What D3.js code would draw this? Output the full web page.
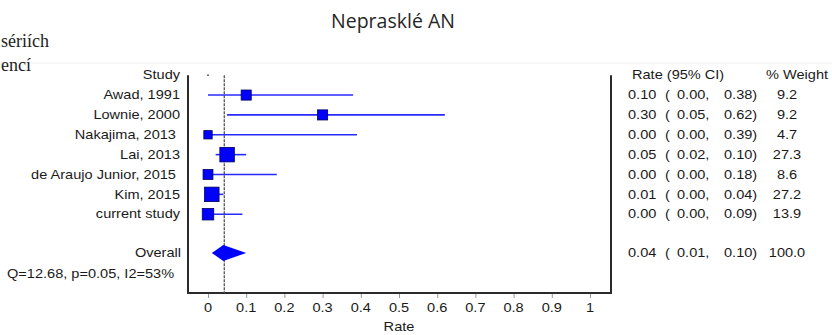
<!DOCTYPE html>
<html>
<head>
<meta charset="utf-8">
<script src="https://cdn.jsdelivr.net/npm/d3@7"></script>
<style>
html,body{margin:0;padding:0;background:#fff;}
svg{display:block;}
text{white-space:pre;}
</style>
</head>
<body>
<svg id="chart" width="832" height="335"></svg>
<script>
const title = "Nepraskl\u00e9 AN";
const studies = ["Awad, 1991","Lownie, 2000","Nakajima, 2013 ","Lai, 2013","de Araujo Junior, 2015 ","Kim, 2015","current study"];
const rates   = [0.10, 0.30, 0.00, 0.05, 0.00, 0.01, 0.00];
const lowers  = [0.00, 0.05, 0.00, 0.02, 0.00, 0.00, 0.00];
const uppers  = [0.38, 0.62, 0.39, 0.10, 0.18, 0.04, 0.09];
const weights = [9.2, 9.2, 4.7, 27.3, 8.6, 27.2, 13.9];
const overallRate = 0.04, overallLower = 0.01, overallUpper = 0.10, overallWeight = 100.0;
const heterogeneity = "Q=12.68, p=0.05, I2=53%";
const xTicks = [0,0.1,0.2,0.3,0.4,0.5,0.6,0.7,0.8,0.9,1];
const xTickLabels = ["0","0.1","0.2","0.3","0.4","0.5","0.6","0.7","0.8","0.9","1"];
const docFragments = ["s\u00e9ri\u00edch","enc\u00ed"];

(function(){
const svg = d3.select("#chart");
const FONT = "'Liberation Sans', Arial, sans-serif";
const SX = 1.12;
const TXT = "#1a1a1a";

const x = d3.scaleLinear().domain([0,1]).range([208,590]);
const y = d3.scaleLinear().domain([-1,9]).range([75.2,273.8]);
const size = d3.scalePow().exponent(0.5).domain([0,27.3]).range([4,14.5]);
const fmt = d3.format(".2f");

function label(txt, px, py, anchor, opts={}) {
  return svg.append("text")
    .attr("transform", `translate(${px},${py}) scale(${opts.sx||SX},1)`)
    .attr("text-anchor", anchor)
    .attr("dominant-baseline", "central")
    .attr("font-family", opts.family || FONT)
    .attr("font-size", opts.size || 13)
    .attr("fill", opts.fill || TXT)
    .text(txt);
}

// document fragments on the left
svg.append("text").attr("x",1).attr("y",47).attr("text-anchor","start")
  .attr("font-family","'Liberation Serif', 'DejaVu Serif', serif").attr("font-size",18).attr("fill","#222")
  .text(docFragments[0]);
svg.append("line").attr("x1",0).attr("x2",832).attr("y1",63).attr("y2",63).attr("stroke","#f0f0f0").attr("stroke-width",1);
svg.append("text").attr("x",1).attr("y",71).attr("text-anchor","start")
  .attr("font-family","'Liberation Serif', 'DejaVu Serif', serif").attr("font-size",18).attr("fill","#222")
  .text(docFragments[1]);

// title
svg.append("text").attr("x",393).attr("y",28).attr("text-anchor","middle")
  .attr("font-family","'Open Sans', 'Noto Sans', sans-serif").attr("font-size",19.5).attr("fill","#262626")
  .text(title);

// frame
const frameColor = "#2b2b2b";
const yTop = y(-1), yBottom = 293;
svg.append("line").attr("x1",188).attr("x2",188).attr("y1",yTop).attr("y2",yBottom).attr("stroke",frameColor).attr("stroke-width",2);
svg.append("line").attr("x1",611).attr("x2",611).attr("y1",yTop).attr("y2",yBottom).attr("stroke",frameColor).attr("stroke-width",2);
svg.append("line").attr("x1",187).attr("x2",612).attr("y1",yBottom).attr("y2",yBottom).attr("stroke",frameColor).attr("stroke-width",2);

// x axis
const axis = d3.axisBottom(x).tickValues(xTicks).tickFormat((d,i)=>xTickLabels[i]).tickSize(5).tickSizeOuter(0);
const gAxis = svg.append("g").attr("transform",`translate(0,${yBottom})`).call(axis);
gAxis.select(".domain").remove();
gAxis.selectAll(".tick line").attr("stroke","#999").attr("y1",1);
gAxis.selectAll(".tick text").remove();
xTicks.forEach((t,i)=>label(xTickLabels[i], x(t), 308, "middle"));
label("Rate", 399, 327, "middle");

// null marker dot
svg.append("circle").attr("cx",x(0)).attr("cy",y(-1)).attr("r",0.9).attr("fill","#555");

// overall dashed line
svg.append("line").attr("x1",x(overallRate)+1).attr("x2",x(overallRate)+1).attr("y1",yTop).attr("y2",yBottom)
  .attr("stroke","#555").attr("stroke-width",1.3).attr("stroke-dasharray","3,1");

// study rows
const BLUE = "#0000ff";
studies.forEach((s,i)=>{
  const yy = y(i);
  svg.append("line").attr("x1",x(lowers[i])).attr("x2",x(uppers[i])).attr("y1",yy).attr("y2",yy)
    .attr("stroke","#2a2aff").attr("stroke-width",1.6);
  const w = size(weights[i]);
  svg.append("rect").attr("x",x(rates[i])-w/2).attr("y",yy-w/2).attr("width",w).attr("height",w)
    .attr("fill",BLUE).attr("stroke","#000060").attr("stroke-width",0.8);
  label(s, 180, yy, "end");
  label(fmt(rates[i]), 628, yy, "start");
  label("(", 665, yy, "start");
  label(fmt(lowers[i])+",", 677, yy, "start");
  label(fmt(uppers[i])+")", 724, yy, "start");
  label(d3.format(".1f")(weights[i]), 787, yy, "middle");
});

// headers
label("Study", 180, y(-1), "end");
label("Rate (95% CI)", 632, y(-1), "start");
label("% Weight", 766, y(-1), "start");

// overall
const yo = y(8) - 1;
svg.append("path")
  .attr("d", `M${x(overallLower)},${yo} L${x(overallRate)},${yo-8} L${x(overallUpper)},${yo} L${x(overallRate)},${yo+8} Z`)
  .attr("fill",BLUE);
label("Overall", 181, yo, "end");
label(fmt(overallRate), 628, yo, "start");
label("(", 665, yo, "start");
label(fmt(overallLower)+",", 677, yo, "start");
label(fmt(overallUpper)+")", 724, yo, "start");
label(d3.format(".1f")(overallWeight), 787, yo, "middle");
label(heterogeneity, 7, y(9), "start");
})();
</script>
</body>
</html>
